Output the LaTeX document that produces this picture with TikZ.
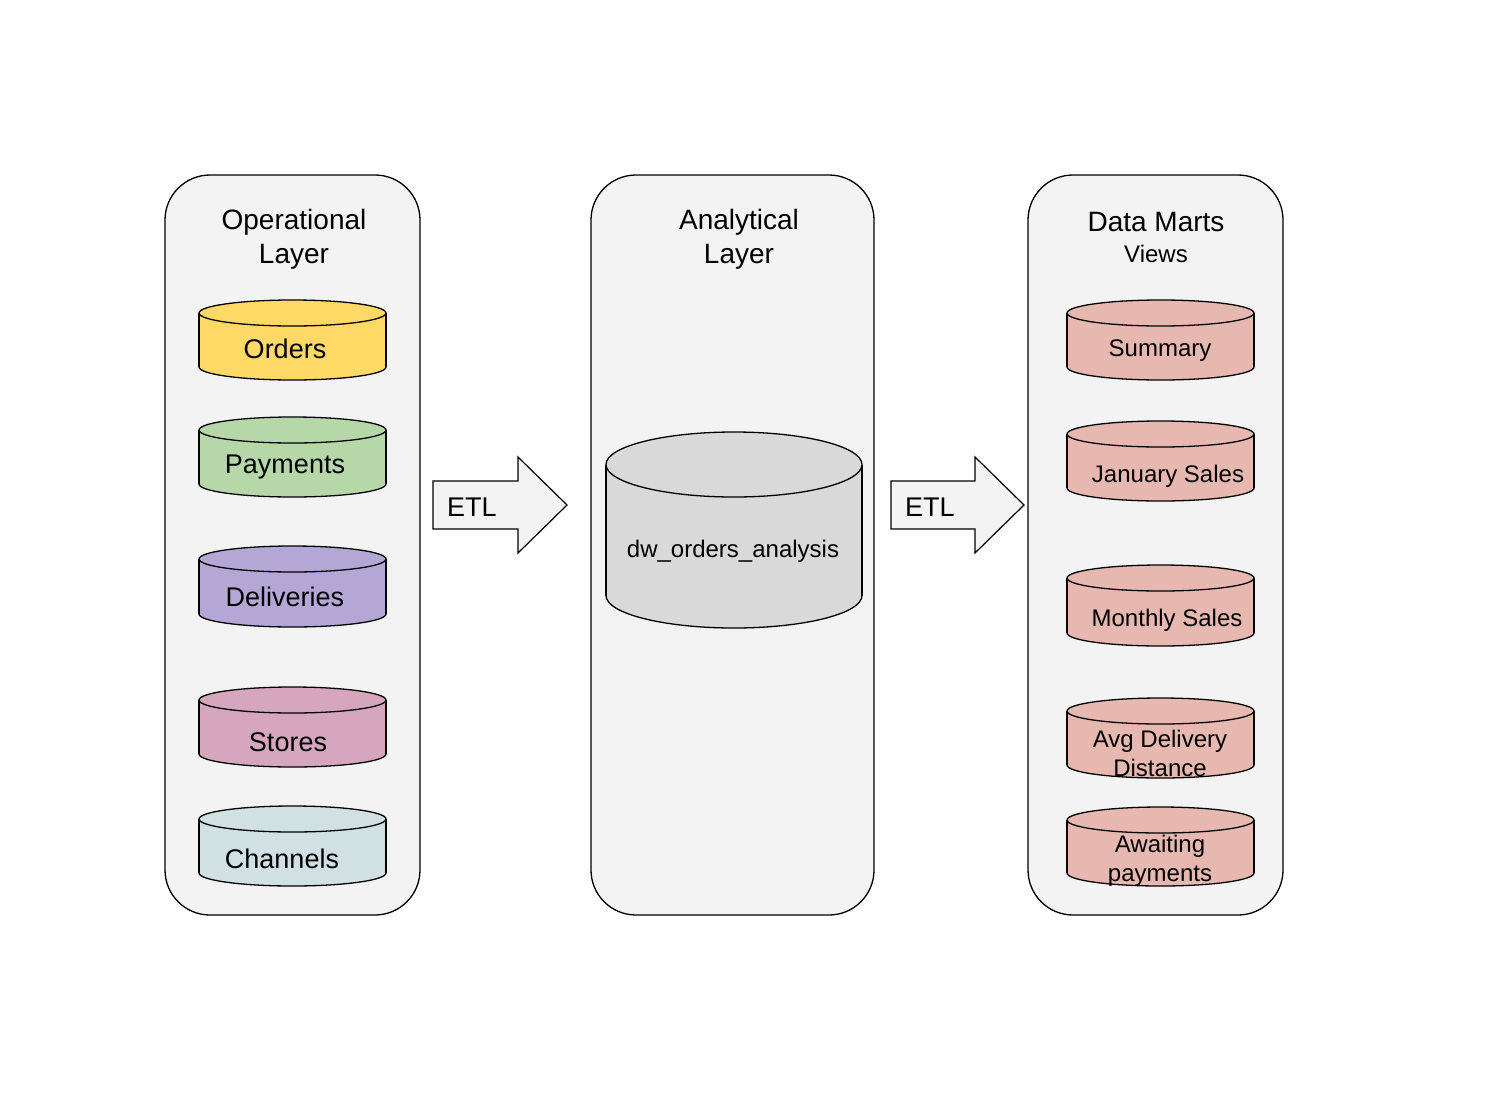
\documentclass[tikz,border=0pt]{standalone}
\usepackage{fontspec}
\setmainfont{Liberation Sans}
\pgfdeclarelayer{panels}
\pgfdeclarelayer{cyls}
\pgfsetlayers{panels,cyls,main}
\definecolor{panelgray}{HTML}{F3F3F3}
\definecolor{ordersc}{HTML}{FFD966}
\definecolor{paymentsc}{HTML}{B6D7A8}
\definecolor{deliveriesc}{HTML}{B4A7D6}
\definecolor{storesc}{HTML}{D5A6BD}
\definecolor{channelsc}{HTML}{D0E0E3}
\definecolor{martc}{HTML}{E6B8AF}
\definecolor{dwc}{HTML}{D9D9D9}
% name, xc, ytop, ybot, halfwidth, ry, colour
\newcommand\mycyl[7]{%
  \begin{pgfonlayer}{cyls}
    \filldraw[fill=#7, outline] ({#2},{#4-#6}) ellipse [x radius=#5, y radius=#6];
    \fill[#7] ({#2-#5},{#3+#6}) rectangle ({#2+#5},{#4-#6});
    \draw[outline] ({#2-#5},{#3+#6}) -- ({#2-#5},{#4-#6}) ({#2+#5},{#3+#6}) -- ({#2+#5},{#4-#6});
    \filldraw[fill=#7, outline] ({#2},{#3+#6}) ellipse [x radius=#5, y radius=#6];
    \coordinate (#1) at ({#2},{(#3+#4)/2});
  \end{pgfonlayer}}
\begin{document}
\begin{tikzpicture}[x=1pt,y=-1pt,
  outline/.style={draw=black, line width=1.3pt},
  panel/.style={outline, fill=panelgray, rounded corners=45pt},
  etlarrow/.style={draw=black, line width=1.2pt, fill=panelgray, line join=miter},
  big/.style={font=\fontsize{28}{34}\selectfont, anchor=base, inner sep=0pt},
  lbl/.style={font=\fontsize{27}{32}\selectfont, anchor=base, inner sep=0pt},
  sml/.style={font=\fontsize{24}{29}\selectfont, anchor=base, inner sep=0pt}]
\begin{pgfonlayer}{panels}
\fill[white] (0,0) rectangle (1495,1100);
\end{pgfonlayer}
\useasboundingbox (0,0) rectangle (1495,1100);

% panels
\begin{pgfonlayer}{panels}
\draw[panel] (165,175) rectangle (420,915);
\draw[panel] (591,175) rectangle (874,915);
\draw[panel] (1028,175) rectangle (1283,915);
\end{pgfonlayer}

% titles
\node[big] (op1) at (294,229) {Operational};
\node[big] (op2) at (294,263) {Layer};
\node[big] (an1) at (739,229) {Analytical};
\node[big] (an2) at (739,263) {Layer};
\node[big] (dm1) at (1156,231) {Data Marts};
\node[sml] (dm2) at (1156,262) {Views};

% operational cylinders
\mycyl{corders}{292.5}{300}{380}{93.5}{13}{ordersc}
\mycyl{cpayments}{292.5}{417}{497}{93.5}{13}{paymentsc}
\mycyl{cdeliveries}{292.5}{546}{627}{93.5}{13}{deliveriesc}
\mycyl{cstores}{292.5}{687}{767}{93.5}{13}{storesc}
\mycyl{cchannels}{292.5}{806}{886}{93.5}{13}{channelsc}
\node[lbl] (orders) at (285,358) {Orders};
\node[lbl] (payments) at (285,473) {Payments};
\node[lbl] (deliveries) at (285,606) {Deliveries};
\node[lbl] (stores) at (288,751) {Stores};
\node[lbl] (channels) at (282,868) {Channels};

% analytical cylinder
\mycyl{cdw}{734}{432}{628}{128}{32.5}{dwc}
\node[sml] (dw) at (733,557) {dw\_orders\_analysis};

% data mart cylinders
\mycyl{csummary}{1160.5}{300}{380}{93.5}{13}{martc}
\mycyl{cjan}{1160.5}{421}{501}{93.5}{13}{martc}
\mycyl{cmonthly}{1160.5}{565}{646}{93.5}{13}{martc}
\mycyl{cavg}{1160.5}{698}{778}{93.5}{13}{martc}
\mycyl{cawait}{1160.5}{807}{886}{93.5}{13}{martc}
\node[sml] (summary) at (1160,356) {Summary};
\node[sml] (jan) at (1168,482) {January Sales};
\node[sml] (monthly) at (1167,626) {Monthly Sales};
\node[sml] (avg1) at (1160,747) {Avg Delivery};
\node[sml] (avg2) at (1160,776) {Distance};
\node[sml] (await1) at (1160,852) {Awaiting};
\node[sml] (await2) at (1160,881) {payments};

% ETL arrows
\draw[etlarrow] (433,481) -- (518,481) -- (518,457) -- (567,505) -- (518,553) -- (518,529) -- (433,529) -- cycle;
\node[lbl, anchor=base west] (etl1) at (447,516) {ETL};
\draw[etlarrow] (891,481) -- (975,481) -- (975,457) -- (1024,505) -- (975,553) -- (975,529) -- (891,529) -- cycle;
\node[lbl, anchor=base west] (etl2) at (905,516) {ETL};
\end{tikzpicture}
\end{document}
